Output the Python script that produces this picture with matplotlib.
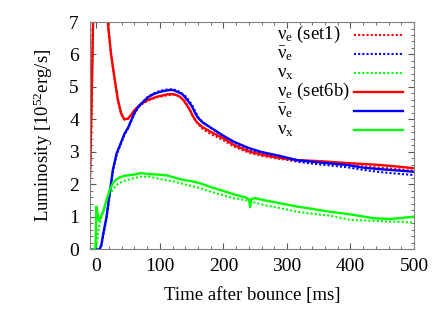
import matplotlib
matplotlib.use('Agg')
import matplotlib.pyplot as plt
from matplotlib.ticker import MultipleLocator

plt.rcParams['font.family'] = ['Liberation Serif', 'DejaVu Serif']
plt.rcParams['mathtext.fontset'] = 'custom'
plt.rcParams['mathtext.rm'] = 'Liberation Serif'
plt.rcParams['mathtext.it'] = 'Liberation Serif:italic'

# set6b (solid)
t_e6 = [-10, -9, -7, -5, -2, 2, 6, 10, 14, 18, 23, 29, 34, 39, 44, 50, 55, 60, 70, 81, 95,
        113, 122, 130, 137, 142, 147, 152, 158, 166, 180, 200, 216, 240, 260, 284, 316, 350,
        395, 447, 475, 500]
L_e6 = [2.2, 3.0, 5.0, 7.2, 10, 13, 13, 11, 8.6, 7.0, 6.04, 5.22, 4.6, 4.19, 4.0, 4.03, 4.15,
        4.29, 4.48, 4.6, 4.7, 4.78, 4.78, 4.72, 4.6, 4.45, 4.3, 4.1, 3.92, 3.78, 3.62, 3.42,
        3.22, 3.02, 2.92, 2.83, 2.75, 2.72, 2.66, 2.6, 2.55, 2.5]

t_eb6 = [-10, 5, 8, 11, 16, 21, 26, 32, 38, 44, 50, 55, 60, 66, 74, 81, 90, 100, 113, 120,
         128, 135, 140, 145, 150, 155, 160, 168, 180, 200, 216, 240, 260, 284, 316, 350, 395,
         420, 447, 475, 500]
L_eb6 = [0, 0, 0.15, 0.5, 1.0, 1.73, 2.45, 2.96, 3.25, 3.55, 3.75, 3.98, 4.2, 4.39, 4.55, 4.68,
         4.78, 4.85, 4.9, 4.91, 4.85, 4.78, 4.68, 4.55, 4.42, 4.22, 4.05, 3.9, 3.75, 3.5, 3.32,
         3.12, 3.0, 2.9, 2.75, 2.68, 2.6, 2.52, 2.47, 2.43, 2.39]

t_x6 = [-10, -2, -1, 0, 2, 4, 7, 11, 16, 21, 26, 31, 37, 45, 58, 70, 84, 100, 111, 125, 137,
        150, 163, 180, 200, 216, 235, 240, 242, 244, 250, 263, 290, 316, 340, 368, 400, 437,
        463, 480, 500]
L_x6 = [0, 0, 0.3, 1.32, 1.1, 0.88, 1.0, 1.18, 1.52, 1.83, 2.04, 2.15, 2.22, 2.27, 2.3, 2.35,
        2.32, 2.3, 2.28, 2.2, 2.14, 2.1, 2.04, 1.92, 1.8, 1.7, 1.6, 1.55, 1.3, 1.55, 1.58, 1.52,
        1.42, 1.32, 1.25, 1.16, 1.08, 0.96, 0.94, 0.97, 1.01]

# set1 (dotted)
t_e1 = [-10, -9, -7, -5, -2, 2, 6, 10, 14, 18, 23, 29, 34, 39, 44, 50, 55, 60, 70, 81, 95,
        113, 122, 130, 137, 143, 148, 153, 160, 168, 180, 200, 216, 240, 260, 284, 316, 350,
        395, 447, 475, 500]
L_e1 = [2.2, 3.0, 5.0, 7.2, 10, 13, 13, 11, 8.6, 7.0, 6.0, 5.2, 4.58, 4.17, 4.0, 4.02, 4.12,
        4.25, 4.45, 4.58, 4.68, 4.75, 4.76, 4.72, 4.62, 4.45, 4.28, 4.06, 3.86, 3.7, 3.55, 3.36,
        3.17, 2.98, 2.88, 2.8, 2.72, 2.68, 2.6, 2.52, 2.47, 2.42]

t_eb1 = [-10, 5, 8, 11, 16, 21, 26, 32, 38, 44, 50, 55, 60, 66, 74, 81, 90, 100, 113, 120,
         128, 135, 141, 147, 152, 157, 162, 170, 180, 200, 216, 240, 260, 284, 316, 350, 395,
         420, 447, 475, 500]
L_eb1 = [0, 0, 0.12, 0.45, 0.95, 1.68, 2.4, 2.92, 3.22, 3.52, 3.73, 3.95, 4.18, 4.38, 4.56,
         4.7, 4.8, 4.88, 4.93, 4.93, 4.88, 4.8, 4.7, 4.55, 4.4, 4.2, 4.02, 3.88, 3.74, 3.48,
         3.3, 3.08, 2.95, 2.85, 2.7, 2.62, 2.53, 2.45, 2.38, 2.33, 2.29]

t_x1 = [-10, 0, 3, 8, 13, 19, 26, 33, 42, 58, 70, 84, 100, 120, 140, 163, 190, 216, 240, 263,
        290, 316, 340, 368, 400, 437, 463, 500]
L_x1 = [0, 0, 0.6, 1.0, 1.3, 1.6, 1.85, 2.0, 2.1, 2.19, 2.24, 2.24, 2.17, 2.1, 2.0, 1.89, 1.72,
        1.58, 1.5, 1.37, 1.27, 1.16, 1.1, 1.04, 0.91, 0.88, 0.86, 0.83]

labels = [r'$\mathrm{\nu_e}$ (set1)', r'$\mathrm{\bar{\nu}_e}$', r'$\mathrm{\nu_x}$',
          r'$\mathrm{\nu_e}$ (set6b)', r'$\mathrm{\bar{\nu}_e}$', r'$\mathrm{\nu_x}$']

fig = plt.figure(figsize=(4.42, 3.09), dpi=100)
ax = fig.add_axes([0.2036, 0.1926, 0.7331, 0.7362])

dot = (0, (1, 1))
h = []
h += ax.plot(t_e1, L_e1, color='#ff0000', lw=1.5, ls=dot)
h += ax.plot(t_eb1, L_eb1, color='#0000ff', lw=1.5, ls=dot)
h += ax.plot(t_x1, L_x1, color='#00ff00', lw=1.5, ls=dot)
h += ax.plot(t_e6, L_e6, color='#ff0000', lw=1.7)
h += ax.plot(t_eb6, L_eb6, color='#0000ff', lw=1.7)
h += ax.plot(t_x6, L_x6, color='#00ff00', lw=1.7)

ax.set_xlim(-10, 500)
ax.set_ylim(0, 7)
ax.xaxis.set_major_locator(MultipleLocator(100))
ax.xaxis.set_minor_locator(MultipleLocator(20))
ax.yaxis.set_major_locator(MultipleLocator(1))
ax.yaxis.set_minor_locator(MultipleLocator(0.2))
ax.tick_params(which='both', direction='in', top=True, right=True, colors='#555555',
               labelcolor='black', labelsize=14)
ax.tick_params(which='major', length=4)
ax.tick_params(which='minor', length=2)
ax.tick_params(axis='x', pad=6)
ax.tick_params(axis='y', pad=8)
for s in ax.spines.values():
    s.set_color('#808080')

ax.set_xlabel('Time after bounce [ms]', fontsize=13.5, labelpad=9)
ax.set_ylabel(r'Luminosity [10$^{52}$erg/s]', fontsize=13.5, labelpad=10)

# legend: line samples from the legend, labels left-aligned next to them
leg = ax.legend(h, [' '] * 6, loc='upper right', frameon=False, fontsize=13,
                handlelength=2.7, labelspacing=0.11, borderaxespad=0.0, borderpad=0.35,
                handletextpad=0.0)
fig.canvas.draw()
inv = ax.transAxes.inverted()
for ln, lab in zip(leg.get_lines(), labels):
    bb = ln.get_window_extent(fig.canvas.get_renderer())
    yc = (bb.y0 + bb.y1) / 2
    xa, ya = inv.transform((0, yc - 4))
    ax.text(0.578, ya, lab, transform=ax.transAxes, fontsize=13.5, va='baseline', ha='left')

plt.savefig('out.png', dpi=100)
